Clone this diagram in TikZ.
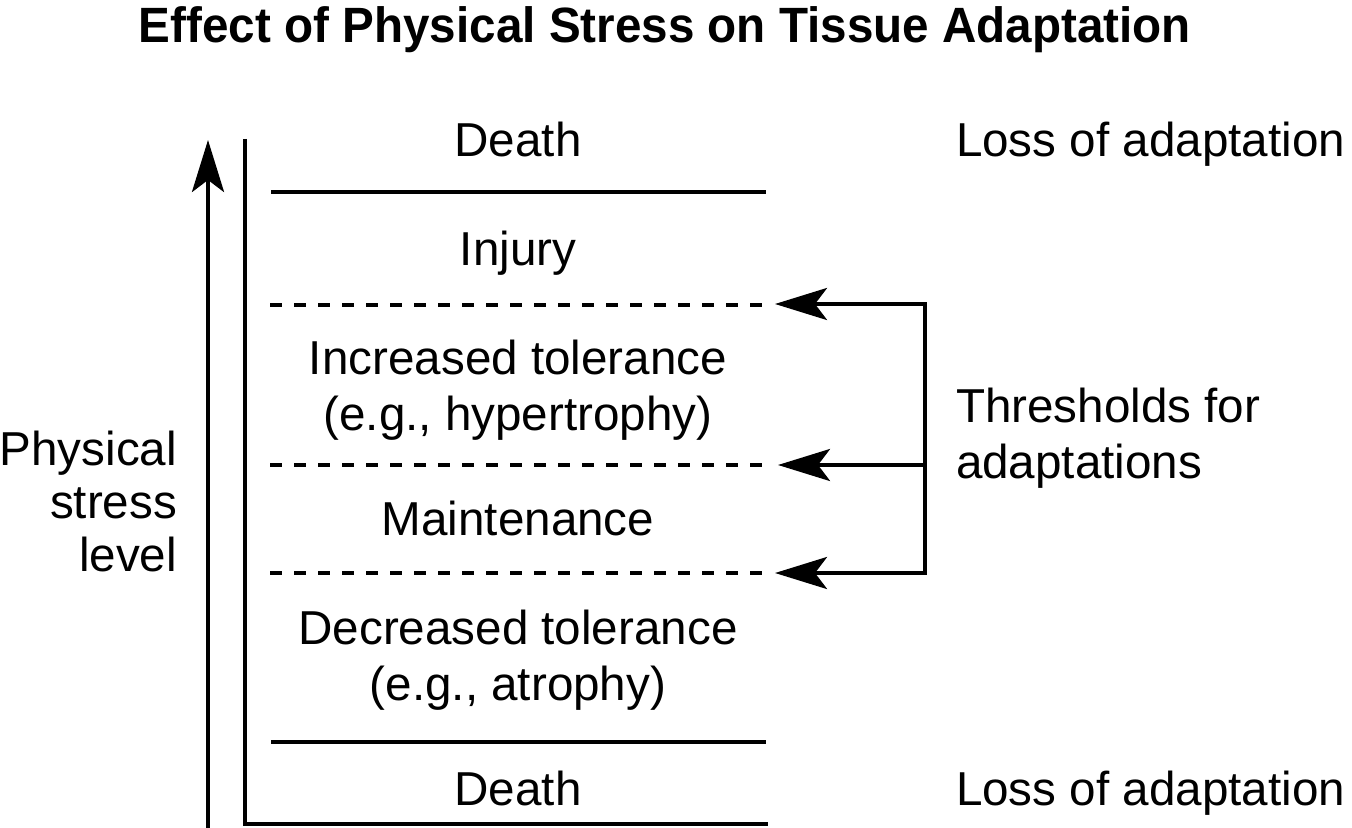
\documentclass[tikz,border=0pt]{standalone}
\usepackage{fontspec}
\setmainfont{Liberation Sans}
\usetikzlibrary{arrows.meta}
\tikzset{
  lbl/.style={inner sep=0pt, anchor=base, font=\fontsize{23.8pt}{28pt}\selectfont},
  lblL/.style={lbl, anchor=base west},
  lblR/.style={lbl, anchor=base east},
  ttl/.style={inner sep=0pt, anchor=base, font=\fontsize{24.8pt}{29pt}\selectfont\bfseries},
  solidline/.style={line width=2pt},
  dashline/.style={line width=2pt, dash pattern=on 6pt off 6pt},
  mytip/.tip={Stealth[length=26pt,width=16pt,inset=6pt]},
}
\begin{document}
\begin{tikzpicture}[x=0.5pt,y=-0.5pt,line width=2pt]
\useasboundingbox (0,0) rectangle (1352,828);
% title
\node[ttl] (title) at (665,43) {\scalebox{0.96}[1]{Effect of Physical Stress on Tissue Adaptation}};
% axis arrow and frame
\coordinate (axb) at (208,832);
\coordinate (axt) at (208,140);
\draw[-mytip] (axb) -- (axt);
\coordinate (ft) at (245,139);
\coordinate (fc) at (245,824);
\coordinate (fr) at (768,824);
\draw[solidline] (ft) -- (fc) -- (fr);
% level lines
\coordinate (s1a) at (271,192); \coordinate (s1b) at (766,192);
\coordinate (s2a) at (271,742); \coordinate (s2b) at (766,742);
\draw[solidline] (s1a) -- (s1b);
\draw[solidline] (s2a) -- (s2b);
\coordinate (d1a) at (270,305); \coordinate (d1b) at (764,305);
\coordinate (d2a) at (270,465); \coordinate (d2b) at (764,465);
\coordinate (d3a) at (270,573); \coordinate (d3b) at (764,573);
\draw[dashline] (d1a) -- (d1b);
\draw[dashline] (d2a) -- (d2b);
\draw[dashline] (d3a) -- (d3b);
% threshold arrows
\coordinate (t1) at (775,304); \coordinate (r1) at (925,304);
\coordinate (t2) at (778,465); \coordinate (r2) at (925,465);
\coordinate (t3) at (775,573); \coordinate (r3) at (925,573);
\draw[mytip-mytip] (t1) -- (r1) -- (r3) -- (t3);
\draw[-mytip] (r2) -- (t2);
% centre labels
\node[lbl] (death1) at (518,157) {Death};
\node[lbl] (injury) at (518,266) {Injury};
\node[lbl] (inc1) at (518,374) {Increased tolerance};
\node[lbl] (inc2) at (518,430) {(e.g., hypertrophy)};
\node[lbl] (maint) at (518,535) {Maintenance};
\node[lbl] (dec1) at (518,644) {Decreased tolerance};
\node[lbl] (dec2) at (518,700) {(e.g., atrophy)};
\node[lbl] (death2) at (518,805) {Death};
% right labels
\node[lblL] (loss1) at (954,157) {Loss of adaptation};
\node[lblL] (thr1) at (954,422) {Thresholds for};
\node[lblL] (thr2) at (954,478) {adaptations};
\node[lblL] (loss2) at (954,805) {Loss of adaptation};
% left labels
\node[lblR] (ph1) at (179,465) {Physical};
\node[lblR] (ph2) at (179,518) {stress};
\node[lblR] (ph3) at (179,571) {level};
\end{tikzpicture}
\end{document}
